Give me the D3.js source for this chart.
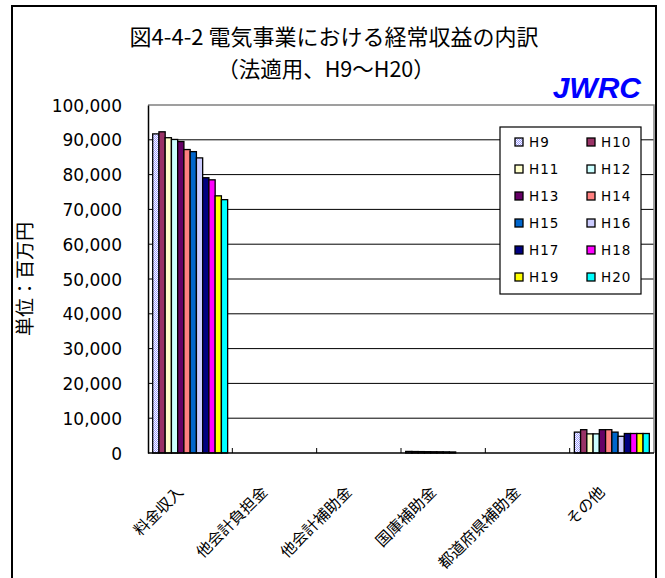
<!DOCTYPE html>
<html><head><meta charset="utf-8">
<script src="https://cdn.jsdelivr.net/npm/d3@7"></script>
<style>html,body{margin:0;padding:0;background:#fff;}svg{display:block;}</style>
</head><body><svg id="c" width="665" height="578"></svg>
<script>
const categories = ["料金収入","他会計負担金","他会計補助金","国庫補助金","都道府県補助金","その他"];
const years = ["H9","H10","H11","H12","H13","H14","H15","H16","H17","H18","H19","H20"];
const colors = ["#9999FF","#993366","#FFFFCC","#CCFFFF","#660066","#FF8080","#0066CC","#CCCCFF","#000080","#FF00FF","#FFFF00","#00FFFF"];
// values per category, H9..H20 (百万円)
const ryokinShunyu   = [91700,92300,90600,90100,89500,87200,86600,84800,79100,78500,73900,72800];
const takaikeiFutan  = [0,0,0,0,0,0,0,0,0,0,0,0];
const takaikeiHojo   = [0,0,0,0,0,0,0,0,0,0,0,0];
const kokkoHojo      = [450,420,400,380,360,350,330,300,0,0,0,0];
const todofukenHojo  = [0,0,0,0,0,0,0,0,0,0,0,0];
const sonota         = [6000,6700,5500,5500,6700,6700,6000,4800,5600,5600,5600,5600];
const yTicks = [0,10000,20000,30000,40000,50000,60000,70000,80000,90000,100000];

const seriesByCat = [ryokinShunyu,takaikeiFutan,takaikeiHojo,kokkoHojo,todofukenHojo,sonota];
const svg = d3.select("#c");
const defs = svg.append("defs");
const pat = defs.append("pattern").attr("id","p9").attr("width",2).attr("height",2).attr("patternUnits","userSpaceOnUse");
pat.append("rect").attr("width",2).attr("height",2).attr("fill","#fff");
pat.append("rect").attr("width",1).attr("height",1).attr("fill","#9999FF");
pat.append("rect").attr("x",1).attr("y",1).attr("width",1).attr("height",1).attr("fill","#9999FF");
const fillFor = i => i===0 ? "url(#p9)" : colors[i];

const L=148, R=654, T=105, B=453;
// outer frame
svg.append("rect").attr("x",12).attr("y",6).attr("width",644).attr("height",620)
  .attr("fill","none").attr("stroke","#000").attr("stroke-width",2);

const x0 = d3.scaleBand().domain(categories).range([L,R]).paddingInner(0).paddingOuter(0);
// Excel gap width 150%: bars occupy 12/13.5 of the band
const groupW = x0.bandwidth()*12/13.5;
const x1 = d3.scaleBand().domain(years).range([(x0.bandwidth()-groupW)/2,(x0.bandwidth()+groupW)/2]).padding(0);
const y = d3.scaleLinear().domain([0,100000]).range([B,T]);

// gridlines
svg.append("g").selectAll("line").data(yTicks.filter(d=>d>0 && d<100000)).join("line")
  .attr("x1",L).attr("x2",R).attr("y1",d=>y(d)).attr("y2",d=>y(d)).attr("stroke","#000").attr("stroke-width",1);
// plot border top/right gray
svg.append("path").attr("d",`M${L},${T}H${R}V${B}`).attr("fill","none").attr("stroke","#808080").attr("stroke-width",1.5);

// bars
const data = [];
categories.forEach((c,ci)=>years.forEach((yr,yi)=>data.push({c,yr,yi,v:seriesByCat[ci][yi]})));
svg.append("g").selectAll("rect").data(data.filter(d=>d.v>0)).join("rect")
  .attr("x",d=>x0(d.c)+x1(d.yr)).attr("width",x1.bandwidth())
  .attr("y",d=>y(d.v)).attr("height",d=>B-y(d.v))
  .attr("fill",d=>fillFor(d.yi)).attr("stroke","#000").attr("stroke-width",1.3);

// y axis
const ya = svg.append("g").attr("transform",`translate(${L},0)`)
  .call(d3.axisLeft(y).tickValues(yTicks).tickFormat(d3.format(",")).tickSize(0).tickPadding(26));
ya.select(".domain").attr("stroke","#000").attr("stroke-width",1.5);
ya.selectAll("text").attr("font-family","'DejaVu Sans', sans-serif").attr("font-size",17).attr("fill","#000").attr("dy","0.36em");

// x axis
svg.append("line").attr("x1",L).attr("x2",R).attr("y1",B).attr("y2",B).attr("stroke","#000").attr("stroke-width",1.5);
svg.append("g").selectAll("line").data(categories.slice(1)).join("line")
  .attr("x1",d=>x0(d)).attr("x2",d=>x0(d)).attr("y1",B).attr("y2",B-5).attr("stroke","#000").attr("stroke-width",1);
svg.append("g").selectAll("text").data(categories).join("text")
  .attr("transform",d=>`translate(${x0(d)+x0.bandwidth()/2-6},${B+40}) rotate(-45)`)
  .attr("text-anchor","end").attr("font-family","'Noto Sans CJK JP', sans-serif").attr("font-size",15.5).attr("fill","#000")
  .text(d=>d);

// titles
svg.append("text").attr("x",334).attr("y",45).attr("text-anchor","middle")
  .attr("font-family","'Noto Sans CJK JP', sans-serif").attr("font-size",22).attr("fill","#000")
  .text("図4-4-2  電気事業における経常収益の内訳");
svg.append("text").attr("x",326).attr("y",77).attr("text-anchor","middle")
  .attr("font-family","'Noto Sans CJK JP', sans-serif").attr("font-size",21.5).attr("fill","#000")
  .text("（法適用、H9～H20）");
svg.append("text").attr("x",641).attr("y",98).attr("text-anchor","end")
  .attr("font-family","'Liberation Sans', Arial, sans-serif").attr("font-weight","bold").attr("font-style","italic")
  .attr("font-size",30).attr("fill","#0000FF").text("JWRC");
svg.append("text").attr("transform","translate(32,279) rotate(-90)").attr("text-anchor","middle")
  .attr("font-family","'Noto Sans CJK JP', sans-serif").attr("font-size",19).attr("fill","#000")
  .text("単位：百万円");

// legend
const lg = svg.append("g");
lg.append("rect").attr("x",500).attr("y",127).attr("width",141).attr("height",167).attr("fill","#fff").attr("stroke","#000").attr("stroke-width",1.2);
years.forEach((yr,i)=>{
  const col=i%2,row=Math.floor(i/2);
  const gx = col===0?515:587, gy = 142+row*27;
  lg.append("rect").attr("x",gx).attr("y",gy-4).attr("width",8).attr("height",8).attr("fill",fillFor(i)).attr("stroke","#000").attr("stroke-width",1.3);
  lg.append("text").attr("x",gx+14).attr("y",gy).attr("dy","0.36em")
    .attr("font-family","'DejaVu Sans', sans-serif").attr("font-size",13.5).attr("letter-spacing",1).attr("fill","#000").text(yr);
});
</script></body></html>
